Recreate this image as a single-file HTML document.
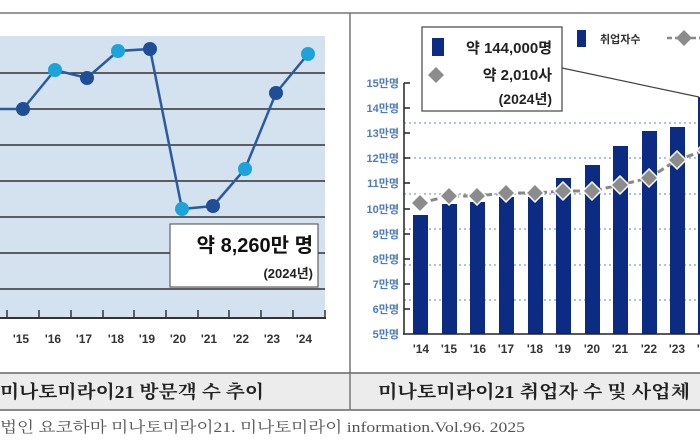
<!DOCTYPE html>
<html><head><meta charset="utf-8"><style>
html,body{margin:0;padding:0;background:#fff;}
svg{display:block;}
.s{font-family:"Liberation Sans","Noto Sans CJK KR",sans-serif;}
.sf{font-family:"Liberation Serif","Noto Serif CJK SC","Noto Sans CJK KR",serif;}
</style></head><body>
<svg width="700" height="440" viewBox="0 0 700 440" xmlns="http://www.w3.org/2000/svg">
<rect width="700" height="440" fill="#fff"/>
<!-- frame -->
<line x1="0" y1="13" x2="700" y2="13" stroke="#777" stroke-width="1.5"/>
<line x1="350" y1="13" x2="350" y2="410" stroke="#777" stroke-width="1.5"/>
<rect x="0" y="373" width="700" height="37" fill="#ececec"/>
<line x1="0" y1="373" x2="700" y2="373" stroke="#666" stroke-width="1.5"/>
<line x1="0" y1="410" x2="700" y2="410" stroke="#666" stroke-width="1.5"/>
<line x1="350" y1="373" x2="350" y2="410" stroke="#777" stroke-width="1.5"/>
<text x="0" y="398" class="sf" font-size="18" font-weight="bold" fill="#222" textLength="264" lengthAdjust="spacingAndGlyphs">미나토미라이21 방문객 수 추이</text>
<text x="378" y="398" class="sf" font-size="18" font-weight="bold" fill="#222" textLength="312" lengthAdjust="spacingAndGlyphs">미나토미라이21 취업자 수 및 사업체</text>
<text x="0" y="432" class="sf" font-size="15" fill="#555" textLength="525" lengthAdjust="spacingAndGlyphs">법인 요코하마 미나토미라이21. 미나토미라이 information.Vol.96. 2025</text>

<!-- left chart -->
<rect x="0" y="36" width="325" height="282" fill="#d3e2ee"/>
<g stroke="#333" stroke-width="1.5">
<line x1="0" y1="73" x2="325" y2="73"/><line x1="0" y1="109" x2="325" y2="109"/>
<line x1="0" y1="145" x2="325" y2="145"/><line x1="0" y1="181" x2="325" y2="181"/>
<line x1="0" y1="217" x2="325" y2="217"/><line x1="0" y1="253" x2="325" y2="253"/>
<line x1="0" y1="289" x2="325" y2="289"/>
<line x1="0" y1="318" x2="326" y2="318" stroke-width="2"/>
</g>
<g stroke="#333" stroke-width="1.5">
<line x1="7" y1="310" x2="7" y2="318"/><line x1="39" y1="310" x2="39" y2="318"/><line x1="71" y1="310" x2="71" y2="318"/>
<line x1="103" y1="310" x2="103" y2="318"/><line x1="134" y1="310" x2="134" y2="318"/><line x1="166" y1="310" x2="166" y2="318"/>
<line x1="198" y1="310" x2="198" y2="318"/><line x1="229" y1="310" x2="229" y2="318"/><line x1="261" y1="310" x2="261" y2="318"/>
<line x1="293" y1="310" x2="293" y2="318"/><line x1="325" y1="310" x2="325" y2="318"/>
</g>
<g class="s" font-size="12" font-weight="bold" fill="#333" text-anchor="middle">
<text x="21" y="343">'15</text><text x="53" y="343">'16</text><text x="84" y="343">'17</text><text x="116" y="343">'18</text>
<text x="147" y="343">'19</text><text x="178" y="343">'20</text><text x="209" y="343">'21</text><text x="241" y="343">'22</text>
<text x="272" y="343">'23</text><text x="304" y="343">'24</text>
</g>
<polyline points="-9,109 23,109 55,70 87,78 118,51 150,49 182,209 213,206 245,169 276,93 308,54" fill="none" stroke="#2a5aa0" stroke-width="2.5"/>
<g>
<circle cx="-9" cy="109" r="7" fill="#1ca3dc"/>
<circle cx="23" cy="109" r="7" fill="#1f4e96"/>
<circle cx="55" cy="70" r="7" fill="#1ca3dc"/>
<circle cx="87" cy="78" r="7" fill="#1f4e96"/>
<circle cx="118" cy="51" r="7" fill="#1ca3dc"/>
<circle cx="150" cy="49" r="7" fill="#1f4e96"/>
<circle cx="182" cy="209" r="7" fill="#1ca3dc"/>
<circle cx="213" cy="206" r="7" fill="#1f4e96"/>
<circle cx="245" cy="169" r="7" fill="#1ca3dc"/>
<circle cx="276" cy="93" r="7" fill="#1f4e96"/>
<circle cx="308" cy="54" r="7" fill="#1ca3dc"/>
</g>
<rect x="170" y="224" width="148" height="63" fill="#fff" stroke="#444" stroke-width="1"/>
<text x="313" y="252" class="s" font-size="20" font-weight="bold" fill="#111" text-anchor="end">약 8,260만 명</text>
<text x="313" y="278" class="s" font-size="13" font-weight="bold" fill="#222" text-anchor="end">(2024년)</text>

<!-- right chart -->
<g stroke="#8fb0d6" stroke-width="1.5" stroke-dasharray="2,3">
<line x1="404" y1="123" x2="700" y2="123"/><line x1="404" y1="158" x2="700" y2="158"/>
<line x1="404" y1="194" x2="700" y2="194"/><line x1="404" y1="229" x2="700" y2="229"/>
<line x1="404" y1="265" x2="700" y2="265"/><line x1="404" y1="300" x2="700" y2="300"/>
</g>
<g fill="#0b2c82">
<rect x="413" y="215" width="15" height="119"/><rect x="442" y="204" width="15" height="130"/>
<rect x="470" y="202" width="15" height="132"/><rect x="499" y="197" width="15" height="137"/>
<rect x="528" y="197" width="15" height="137"/><rect x="556" y="178" width="15" height="156"/>
<rect x="585" y="165" width="15" height="169"/><rect x="613" y="146" width="15" height="188"/>
<rect x="642" y="131" width="15" height="203"/><rect x="670" y="127" width="15" height="207"/>
<rect x="698" y="97" width="15" height="237"/>
</g>
<polyline points="420,203 449,196 477,196 506,193 535,193 563,191 592,191 620,185 649,178 677,160 706,150" fill="none" stroke="#888" stroke-width="3" stroke-dasharray="7,4"/>
<g fill="#8c8c8c" stroke="#fff" stroke-width="1.5">
<path d="M420,194 l9,9 -9,9 -9,-9z"/><path d="M449,187 l9,9 -9,9 -9,-9z"/><path d="M477,187 l9,9 -9,9 -9,-9z"/>
<path d="M506,184 l9,9 -9,9 -9,-9z"/><path d="M535,184 l9,9 -9,9 -9,-9z"/><path d="M563,182 l9,9 -9,9 -9,-9z"/>
<path d="M592,182 l9,9 -9,9 -9,-9z"/><path d="M620,176 l9,9 -9,9 -9,-9z"/><path d="M649,169 l9,9 -9,9 -9,-9z"/>
<path d="M677,151 l9,9 -9,9 -9,-9z"/><path d="M706,141 l9,9 -9,9 -9,-9z"/>
</g>
<g stroke="#222" stroke-width="1.5">
<line x1="404" y1="83" x2="404" y2="334"/><line x1="403" y1="334" x2="700" y2="334"/>
<line x1="404" y1="83" x2="410" y2="83"/><line x1="404" y1="108" x2="410" y2="108"/><line x1="404" y1="133" x2="410" y2="133"/>
<line x1="404" y1="158" x2="410" y2="158"/><line x1="404" y1="183" x2="410" y2="183"/><line x1="404" y1="209" x2="410" y2="209"/>
<line x1="404" y1="234" x2="410" y2="234"/><line x1="404" y1="259" x2="410" y2="259"/><line x1="404" y1="284" x2="410" y2="284"/>
<line x1="404" y1="309" x2="410" y2="309"/>
</g>
<g class="s" font-size="11" font-weight="bold" fill="#4d7cb8" text-anchor="end">
<text x="399" y="87">15만명</text><text x="399" y="112">14만명</text><text x="399" y="137">13만명</text>
<text x="399" y="162">12만명</text><text x="399" y="187">11만명</text><text x="399" y="213">10만명</text>
<text x="399" y="238">9만명</text><text x="399" y="263">8만명</text><text x="399" y="288">7만명</text>
<text x="399" y="313">6만명</text><text x="399" y="338">5만명</text>
</g>
<g class="s" font-size="12" font-weight="bold" fill="#333" text-anchor="middle">
<text x="421" y="353">'14</text><text x="449" y="353">'15</text><text x="478" y="353">'16</text><text x="506" y="353">'17</text>
<text x="535" y="353">'18</text><text x="563" y="353">'19</text><text x="592" y="353">'20</text><text x="620" y="353">'21</text>
<text x="649" y="353">'22</text><text x="677" y="353">'23</text><text x="705" y="353">'24</text>
</g>
<line x1="562" y1="68" x2="699" y2="97" stroke="#444" stroke-width="1.2"/>
<rect x="422" y="27" width="140" height="84" fill="#fff" stroke="#444" stroke-width="1.2"/>
<rect x="432" y="38" width="12" height="18" fill="#0b2c82"/>
<text x="552" y="53" class="s" font-size="15" font-weight="bold" fill="#222" text-anchor="end">약 144,000명</text>
<path d="M436,67 l8,8 -8,8 -8,-8z" fill="#8c8c8c"/>
<text x="552" y="80" class="s" font-size="15" font-weight="bold" fill="#222" text-anchor="end">약 2,010사</text>
<text x="552" y="104" class="s" font-size="14" font-weight="bold" fill="#222" text-anchor="end">(2024년)</text>
<rect x="577" y="30" width="9" height="17" fill="#0b2c82"/>
<text x="600" y="43" class="s" font-size="11" font-weight="bold" fill="#333">취업자수</text>
<line x1="667" y1="38" x2="700" y2="38" stroke="#888" stroke-width="2.5" stroke-dasharray="5,3"/>
<path d="M684,30 l8,8 -8,8 -8,-8z" fill="#8c8c8c"/>
</svg>
</body></html>
